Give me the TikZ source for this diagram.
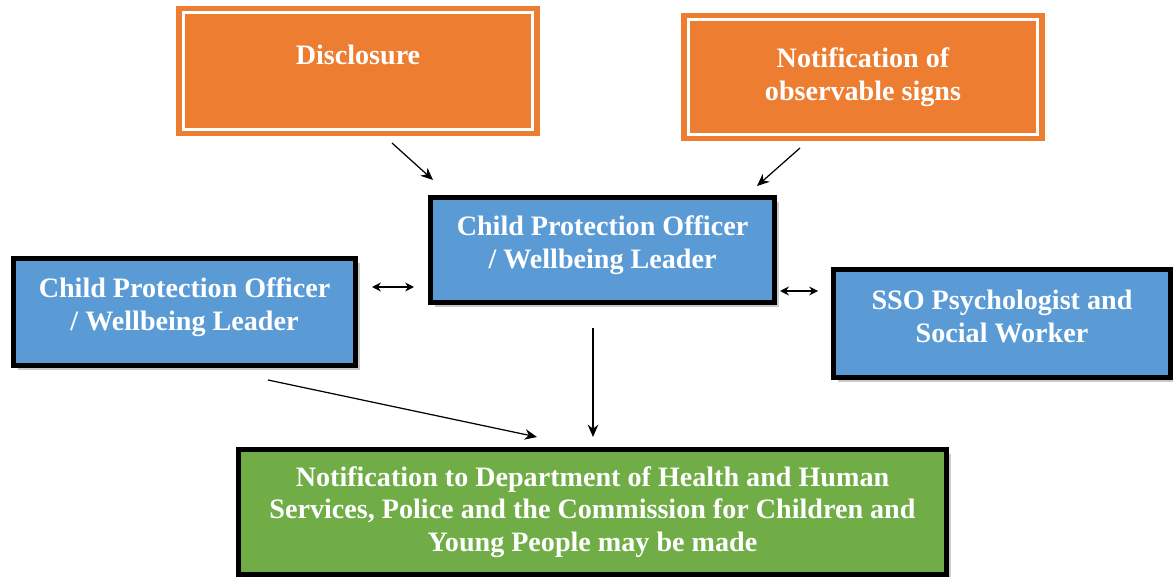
\documentclass[tikz,border=0pt]{standalone}
\usepackage{fontspec}
\setmainfont{Liberation Serif}
\usetikzlibrary{positioning, arrows.meta, shadows}
\definecolor{SignalOrange}{RGB}{237, 125, 49}
\definecolor{StaffBlue}{RGB}{91, 155, 213}
\definecolor{ReportGreen}{RGB}{112, 173, 71}
\newcommand{\liftup}{\\[-10pt]\mbox{}}

\tikzset{
    trigger/.style={draw=SignalOrange, fill=SignalOrange, line width=3pt, double=white, double distance=1.7pt,
        text=white, align=center, inner sep=0pt, font=\bfseries\fontsize{16}{18.7}\selectfont},
    staff/.style={draw=black, fill=StaffBlue, line width=2.8pt, text=white, align=center, inner sep=0pt,
        drop shadow={shadow xshift=2.5pt, shadow yshift=-2.5pt, fill=black!35, opacity=0.6},
        font=\bfseries\fontsize{16}{18.7}\selectfont},
    outcome/.style={staff, fill=ReportGreen, font=\bfseries\fontsize{16}{18.4}\selectfont},
    flow/.style={-{Stealth[length=7pt, width=6pt]}, line width=0.7pt},
    both/.style={{Stealth[length=5pt, width=5pt]}-{Stealth[length=5pt, width=5pt]}, line width=0.9pt}
}

\begin{document}
\begin{tikzpicture}[x=0.02cm, y=-0.02cm]
    \useasboundingbox (0,0) rectangle (1173,577);

    % Sources
    \node[trigger, minimum width=7cm, minimum height=2.33cm] (disclosure) at (358,71) {Disclosure\\[0pt]\mbox{}};
    \node[trigger, minimum width=7cm, minimum height=2.29cm] (signs) at (863,77) {Notification of\\observable signs};

    % Staff
    \node[staff, minimum width=6.88cm, minimum height=2.1cm] (cpoMain) at (602.5,250) {Child Protection Officer\\/ Wellbeing Leader\liftup};
    \node[staff, minimum width=6.84cm, minimum height=2.14cm] (cpoSide) at (184.5,312) {Child Protection Officer\\/ Wellbeing Leader\liftup};
    \node[staff, minimum width=6.74cm, minimum height=2.16cm] (sso) at (1002,323.5) {SSO Psychologist and\\Social Worker\liftup};

    % Outcome
    \node[outcome, minimum width=14.16cm, minimum height=2.5cm] (notify) at (592.5,512) {Notification to Department of Health and Human\\Services, Police and the Commission for Children and\\Young People may be made};

    % Arrow ends
    \coordinate (dA) at (392,143);
    \coordinate (dB) at (433,180);
    \coordinate (sA) at (800,148);
    \coordinate (sB) at (757,186);
    \coordinate (lA) at (372,287);
    \coordinate (lB) at (414,287);
    \coordinate (rA) at (780,291);
    \coordinate (rB) at (818,291);
    \coordinate (mA) at (593,328);
    \coordinate (mB) at (593,437);
    \coordinate (cA) at (268,380);
    \coordinate (cB) at (537,437);

    % Arrows
    \draw[flow] (dA) -- (dB);
    \draw[flow] (sA) -- (sB);
    \draw[both] (lA) -- (lB);
    \draw[both] (rA) -- (rB);
    \draw[flow] (mA) -- (mB);
    \draw[flow] (cA) -- (cB);
\end{tikzpicture}
\end{document}
